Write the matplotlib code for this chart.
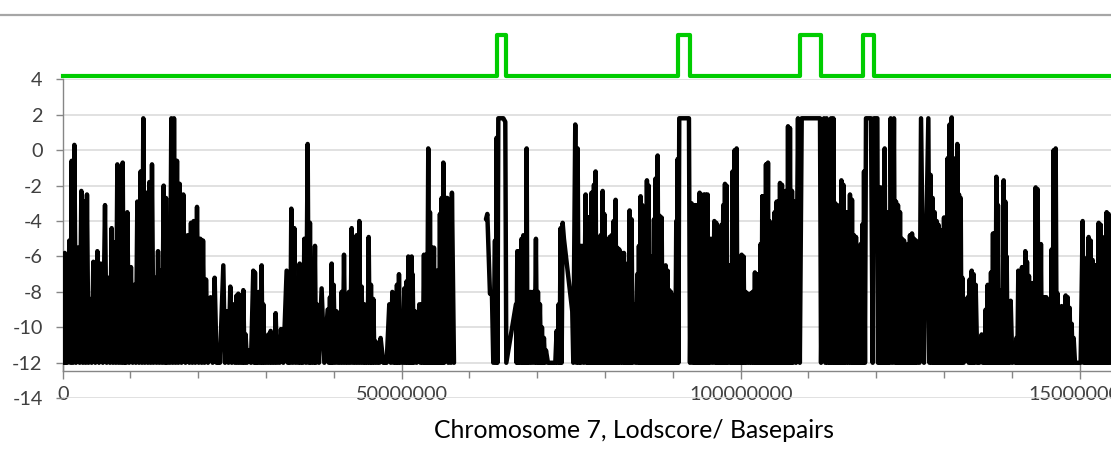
import numpy as np
import matplotlib
matplotlib.use("Agg")
import matplotlib.pyplot as plt
from matplotlib.lines import Line2D
from matplotlib.ticker import MultipleLocator, FuncFormatter

plt.rcParams['font.family'] = ['Lato', 'DejaVu Sans']
plt.rcParams['axes.unicode_minus'] = False

# lodscore trace: position (Mb) and lodscore at each peak / plateau
pos_mb = [
    0.05, 0.3, 0.5, 0.68, 0.98, 1.32, 1.72, 1.96, 2.26, 2.75,
    3.19, 3.58, 4.03, 4.52, 5.11, 5.6, 6.24, 6.73, 7.22, 7.62,
    8.06, 8.45, 8.85, 9.19, 9.53, 10.07, 10.57, 11.01, 11.5, 11.89,
    12.34, 12.78, 13.17, 13.61, 14.06, 14.45, 14.89, 15.24, 15.58, 16.02,
    16.42, 16.86, 17.25, 17.79, 18.43, 18.92, 19.32, 19.81, 20.3, 20.7,
    21.14, 21.43, 21.82, 22.41, 22.7, 23.19, 23.69, 24.18, 24.72, 25.16, 25.65,
    25.9, 26.39, 26.64, 26.98, 27.38, 27.77, 28.11, 28.36, 28.61, 28.95,
    29.34, 29.59, 29.93, 30.33, 30.67, 31.06, 31.41, 31.8, 32.19, 32.54,
    33.03, 33.37, 33.72, 34.16, 34.55, 34.95, 35.24, 35.64, 36.13, 36.47,
    36.82, 37.21, 37.5, 37.8, 38.19, 38.59, 39.08, 39.42, 39.67, 39.96,
    40.41, 40.75, 41.14, 41.49, 41.88, 42.22, 42.62, 43.01, 43.35, 43.75,
    44.09, 44.49, 44.78, 45.13, 45.47, 45.81, 46.16, 46.55, 46.89, 47.29,
    47.78, 48.17, 48.62, 49.01, 49.3, 49.6, 49.99, 50.39, 50.73, 50.98, 51.37,
    51.47, 51.61, 51.96, 52.2, 52.6, 52.94, 53.28, 53.58, 53.92, 54.17,
    54.46, 54.76, 55.05, 55.4, 55.64, 55.89, 56.14, 56.38, 56.73, 56.87,
    57.12, 57.41, 57.71, 60.0, 62.43, 62.63, 63.02, 63.31, 63.51, 63.76,
    64.0, 64.25, 64.99, 65.28, 65.43, 66.85, 67.05, 67.35, 67.69, 67.94,
    68.18, 68.43, 68.67, 69.02, 69.41, 69.8, 70.1, 70.39, 70.69, 70.98,
    71.28, 71.57, 72.66, 72.85, 73.15, 73.44, 73.74, 73.93, 75.16, 75.31,
    75.6, 75.95, 76.29, 76.59, 77.13, 77.42,
    77.52, 77.77, 78.01, 78.36, 78.6, 78.9, 79.1, 79.34, 79.64, 79.88,
    80.13, 80.37, 80.67, 80.96, 81.26, 81.55, 81.8, 82.09, 82.44, 82.78,
    83.03, 83.32, 83.62, 83.91, 84.21, 84.5, 84.75, 84.99, 85.24, 85.49,
    85.73, 85.98, 86.17, 86.42, 86.67, 86.91, 87.21, 87.45, 87.75, 88.04,
    88.34, 88.63, 88.93, 89.22, 89.47, 89.71, 89.96, 90.21, 90.5, 90.7,
    90.94, 92.37, 92.52, 92.76, 93.06, 93.35, 93.65, 93.94, 94.24, 94.53,
    94.83, 95.12, 95.32, 95.61, 95.86, 96.11, 96.4, 96.7, 96.94, 97.19,
    97.43, 97.68, 97.92, 98.07, 98.32, 98.56, 98.81, 99.1, 99.4, 99.65,
    99.94, 100.14, 100.43, 100.73, 101.12, 101.46, 101.76, 102.1, 102.4, 102.69,
    102.94, 103.19,
    103.24, 103.49, 103.73, 104.03, 104.23, 104.47, 104.72, 105.01, 105.31, 105.55,
    105.8, 106.09, 106.39, 106.68, 106.98, 107.27, 107.57, 107.86, 108.16, 108.45,
    109.0, 111.7, 111.85, 112.29, 112.68, 112.98, 113.32, 113.67, 113.96, 114.26,
    114.55, 114.85, 115.14, 115.44, 115.73, 116.12, 116.42, 116.71, 117.01, 117.26,
    117.5, 117.7, 117.94, 118.19, 118.48, 119.22, 119.47, 119.66, 120.16, 120.35,
    120.65, 120.94, 121.24, 121.53, 121.83, 122.12, 122.61, 122.91, 123.2, 123.5,
    123.79, 124.09, 124.38, 124.68, 124.97, 125.27, 125.56, 125.86, 126.15, 126.6,
    127.04, 127.68, 128.02, 128.32, 128.61, 128.91,
    129.15, 129.45, 129.74, 129.99, 130.28, 130.53, 130.82, 131.12, 131.41, 131.71,
    131.95, 132.2, 132.45, 132.69, 132.89, 133.18, 133.48, 133.77, 134.07, 134.36,
    134.66, 134.9, 135.2, 135.54, 135.84, 136.13, 136.43, 136.67, 136.92, 137.21,
    137.46, 137.71, 137.95, 138.2, 138.49, 138.79, 139.03, 139.23, 139.53, 139.82,
    140.07, 140.36, 140.66, 140.95, 141.25, 141.49, 141.74, 141.98, 142.23, 142.52,
    142.77, 143.02, 143.26, 143.51, 143.8, 144.05, 144.29, 144.54, 144.79, 145.08,
    145.38, 145.62, 145.87, 146.16, 146.46, 146.75, 147.05, 147.34, 147.64, 147.93,
    148.23, 148.52, 148.82, 149.11, 149.31, 150.14, 150.44, 150.73, 151.03, 151.32,
    151.62, 151.91, 152.21, 152.5, 152.8, 153.09, 153.39, 153.68, 153.98, 154.27, 154.52,
    155.0,
]
lod = [
    -6.8, -5.8, -6.0, -12, -5.1, -0.6, 0.3, -12, -5.5, -2.3,
    -2.9, -2.5, -8.4, -6.3, -5.7, -6.4, -3.1, -7.2, -4.4, -5.2,
    -0.8, -4.6, -0.7, -4.8, -3.5, -6.6, -7.6, -2.9, -1.2, 1.8,
    -2.4, -1.8, -0.8, -7.2, -5.7, -6.8, -2.0, -2.7, -7.7, 1.8,
    1.8, -0.6, -1.9, -2.5, -4.8, -4.1, -4.0, -3.2, -5.0, -5.1,
    -7.3, -12, -8.3, -7.2, -12, -12, -6.5, -9.1, -7.7, -8.7, -8.2,
    -8.1, -8.2, -7.9, -10.4, -11.3, -12, -6.8, -6.9, -9.5, -8.0,
    -6.5, -8.7, -11.2, -10.4, -10.2, -11.2, -9.2, -11.3, -10.1, -12,
    -6.8, -7.6, -3.3, -4.4, -7.6, -6.4, -7.7, -5.0, 0.35, -4.1,
    -7.4, -5.4, -8.7, -12, -7.8, -12, -9.0, -8.3, -6.4, -7.6,
    -9.1, -9.3, -8.0, -5.9, -9.1, -8.0, -4.4, -7.2, -4.8, -4.0,
    -7.7, -8.7, -10.8, -4.9, -7.6, -8.4, -10.8, -11.0, -10.6, -12,
    -12, -8.7, -8.0, -9.6, -7.6, -7.0, -10.8, -7.8, -7.4, -6.0, -7.0,
    -6.0, -7.0, -9.1, -12, -8.7, -8.7, -5.9, -5.9, 0.1, -3.5,
    -5.5, -5.5, -6.8, -6.8, -3.6, -2.7, -0.7, -2.7, -2.7, -12,
    -4.6, -2.4, -12, np.nan, -3.9, -3.6, -8.1, -8.1, -12, -5.1,
    0.7, 1.8, 1.8, 1.6, -12, -8.7, -5.7, -5.7, -5.0, -4.8,
    -5.0, 0.1, -8.0, -8.0, -8.0, -5.0, -8.0, -8.7, -10.0, -10.6,
    -11.3, -12, -12, -10.2, -8.7, -4.4, -4.1, -5.0, -9.1, -12,
    1.45, 0.1, -5.4, -5.4, -2.5, -3.8,
    -3.8, -3.8, -2.4, -1.95, -1.2, -5.3, -7.6, -4.8, -2.3, -3.6,
    -7.3, -6.1, -4.9, -4.8, -4.0, -2.8, -5.5, -5.6, -5.8, -5.8,
    -7.4, -6.4, -3.4, -3.9, -8.7, -12, -7.0, -5.4, -2.6, -3.1,
    -7.8, -5.7, -1.7, -2.0, -6.0, -7.1, -3.9, -1.6, -0.3, -3.7,
    -3.8, -6.8, -6.5, -6.8, -7.9, -8.0, -8.2, -8.7, -4.0, -0.5,
    1.8, 1.8, -12, -3.0, -3.1, -3.1, -3.1, -2.4, -8.7, -2.5,
    -2.5, -2.5, -5.0, -5.0, -12, -4.0, -4.1, -4.9, -6.2, -4.2,
    -3.1, -1.9, -2.0, -12, -6.5, -6.6, -1.2, 0.0, 0.1, -9.2,
    -8.0, -5.9, -6.0, -8.0, -8.1, -8.1, -8.0, -6.9, -7.0, -8.0,
    -5.3, -2.6,
    -2.6, -4.7, -0.8, -0.7, -4.0, -4.1, -4.8, -3.5, -2.9, -2.9,
    -1.85, -1.95, -2.9, -2.3, 1.35, 1.25, -2.3, -2.9, -12, 1.8,
    1.8, 1.8, -12, 1.8, 1.8, -5.0, 1.8, 1.8, -3.0, -3.1,
    -3.5, -1.7, -1.95, -3.5, -3.5, -2.5, -2.8, -4.8, -4.9, -5.7,
    -6.0, -5.3, -4.2, -1.2, 1.8, 1.8, -12, 1.8, 1.8, -2.1,
    -2.1, -3.1, 0.1, -3.5, -3.8, 1.8, 1.8, -2.9, -3.1, -3.5,
    -5.0, -5.1, -5.5, -5.3, -4.8, -4.7, -5.0, -5.1, -5.5, 1.8,
    -12, 1.8, -1.4, -2.7, -3.5, -4.0,
    -4.2, -4.5, -4.8, -3.8, -3.8, -0.45, 1.45, 1.85, -2.5, -0.45,
    0.35, -2.5, -2.7, -7.2, -12, -10.6, -8.3, -7.3, -6.8, -7.0,
    -7.6, -12, -12, -10.4, -10.6, -9.0, -7.6, -7.7, -6.9, -4.7,
    -4.7, -1.5, -3.1, -8.0, -7.9, -1.7, -2.9, -6.0, -8.7, -8.5,
    -12, -11.4, -10.6, -6.8, -10.6, -6.6, -6.6, -5.7, -6.3, -7.1,
    -8.1, -7.5, -7.5, -2.1, -2.2, -8.0, -5.3, -8.3, -8.3, -8.3,
    -8.7, -8.7, -5.6, 0.0, 0.1, -8.1, -9.6, -8.8, -9.1, -8.2,
    -8.3, -8.9, -9.8, -10.6, -12, -12, -4.0, -6.1, -6.2, -4.9,
    -5.1, -6.2, -6.5, -6.5, -4.1, -4.2, -6.5, -4.9, -3.5, -3.6, -3.9,
    -4.5,
]
# positions after which the trace does not drop back to the floor
no_dip = [56.38, 62.43, 62.63, 63.02, 64.25, 64.99, 65.43, 73.74, 73.93,
          90.94, 109.0, 118.48, 119.66, 132.89, 133.18]
floor = -12

# green marker line: linked regions
mark_start = [64.0, 90.75, 108.75, 118.0]
mark_end = [65.4, 92.5, 111.8, 119.7]
mark_low, mark_high = 4.2, 6.5

y_ticks = [-14, -12, -10, -8, -6, -4, -2, 0, 2, 4]
x_max_mb = 154.62

# build the zig-zag trace (each marker falls back to the floor before the next one)
xs, ys = [], []
for i in range(len(pos_mb)):
    xs.append(pos_mb[i])
    ys.append(lod[i])
    if i + 1 < len(pos_mb) and pos_mb[i] not in no_dip:
        if lod[i] > floor and lod[i + 1] > floor:
            xs.append((pos_mb[i] + pos_mb[i + 1]) / 2)
            ys.append(floor)
xs = np.array(xs) * 1e6
ys = np.array(ys)

gx, gy = [0.0], [mark_low]
for s, e in zip(mark_start, mark_end):
    gx += [s, s, e, e]
    gy += [mark_low, mark_high, mark_high, mark_low]
gx.append(165.0)
gy.append(mark_low)
gx = np.array(gx) * 1e6

W, H = 1111, 450
fig = plt.figure(figsize=(W / 100, H / 100), dpi=100)
ax = fig.add_axes([62.7 / W, (H - 398.2) / H, 1 - 62.7 / W, 318.9 / H])

ax.plot(xs, ys, color='black', lw=3.2, solid_joinstyle='round', solid_capstyle='round', zorder=3)
ax.plot(gx, gy, color='#00cc00', lw=3.0, solid_joinstyle='round', clip_on=False, zorder=3)

ax.set_xlim(0, x_max_mb * 1e6)
ax.set_ylim(-14, 4)
ax.set_yticks(y_ticks)
ax.yaxis.grid(True, color='#d9d9d9', lw=1.1)
ax.set_axisbelow(True)

ax.xaxis.set_major_locator(MultipleLocator(50e6))
ax.xaxis.set_minor_locator(MultipleLocator(10e6))
ax.xaxis.set_major_formatter(FuncFormatter(lambda v, p: f'{v:.0f}'))

for side in ['top', 'right']:
    ax.spines[side].set_visible(False)
ax.spines['bottom'].set_position(('data', -12.45))
ax.spines['left'].set_bounds(-12.45, 4)
for side in ['bottom', 'left']:
    ax.spines[side].set_color('#868686')
    ax.spines[side].set_linewidth(1.0)

ax.tick_params(axis='x', which='major', direction='inout', length=11.5, width=1.0,
               color='#868686', labelsize=14.3, labelcolor='#404040', pad=5)
ax.tick_params(axis='x', which='minor', direction='out', length=4.7, width=1.0, color='#868686')
ax.tick_params(axis='y', direction='out', length=5.4, width=1.0, color='#868686',
               labelsize=14.3, labelcolor='#404040', pad=9)

fig.text(634 / W, 1 - 431 / H, 'Chromosome 7, Lodscore/ Basepairs', ha='center', va='center',
         fontsize=17.8, color='#000000')

fig.add_artist(Line2D([0, 1], [1 - 15 / H] * 2, transform=fig.transFigure, color='#a6a6a6', lw=1.6))

fig.savefig('out.png', dpi=100)
